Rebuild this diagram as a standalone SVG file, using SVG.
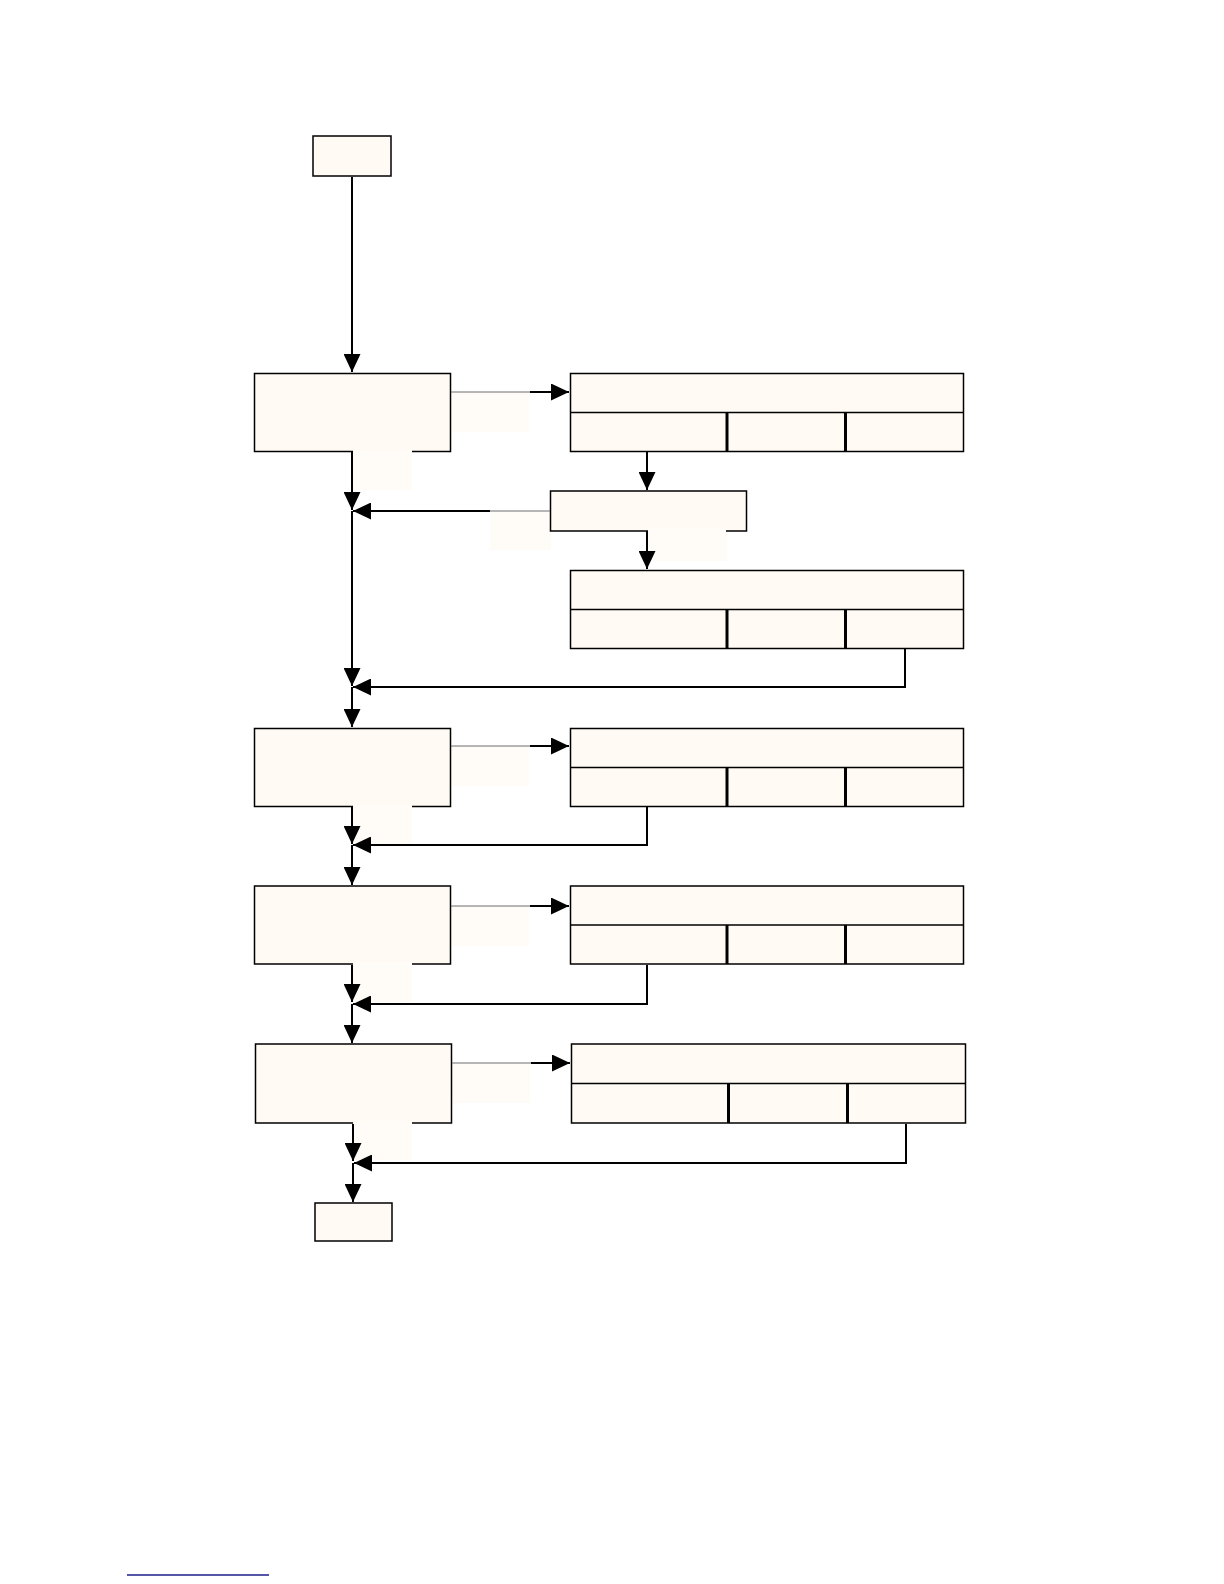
<svg xmlns="http://www.w3.org/2000/svg" width="1224" height="1584" viewBox="0 0 1224 1584">
<style>
.box{fill:#fffaf4;stroke:#000;stroke-width:1.5}
.div{stroke:#000;stroke-width:1.5}
.divt{stroke:#000;stroke-width:3}
.patch{fill:#fffbf7;stroke:none}
.gap{stroke:#fffbf7;stroke-width:3}
.c{fill:none;stroke:#000;stroke-width:2}
.g{fill:none;stroke:#6e6e6e;stroke-width:1.2}
</style>
<defs>
<marker id="ah" viewBox="0 0 18 17" refX="18" refY="8.5" markerWidth="18" markerHeight="17" markerUnits="userSpaceOnUse" orient="auto" preserveAspectRatio="none">
<path d="M0,0 L18,8.5 L0,17 z" fill="#000"/>
</marker>
</defs>
<rect width="1224" height="1584" fill="#fff"/>

<g id="patches">
<rect class="patch" x="451" y="392" width="78" height="40"/>
<rect class="patch" x="353" y="453" width="59" height="37"/>
<rect class="patch" x="490" y="512" width="61" height="38"/>
<rect class="patch" x="648" y="531" width="79" height="30"/>
<rect class="patch" x="451" y="746" width="78" height="40"/>
<rect class="patch" x="353" y="808" width="59" height="36"/>
<rect class="patch" x="451" y="906" width="78" height="40"/>
<rect class="patch" x="353" y="966" width="59" height="36"/>
<rect class="patch" x="452" y="1063" width="78" height="40"/>
<rect class="patch" x="353" y="1124" width="59" height="36"/>
</g>

<g id="start"><rect class="box" x="313" y="136" width="78" height="40"/></g>

<g id="box1"><rect class="box" x="254.5" y="373.5" width="196" height="78"/><line class="gap" x1="353" y1="451.5" x2="412" y2="451.5"/></g>
<g id="table1">
<rect class="box" x="570.5" y="373.5" width="393" height="78"/>
<line class="div" x1="570.5" y1="412.5" x2="963.5" y2="412.5"/>
<line class="divt" x1="727" y1="412.5" x2="727" y2="451.5"/>
<line class="divt" x1="845.5" y1="412.5" x2="845.5" y2="451.5"/>
</g>
<g id="junction"><rect class="box" x="550.5" y="491" width="196" height="40"/><line class="gap" x1="648" y1="531" x2="726" y2="531"/></g>
<g id="table2">
<rect class="box" x="570.5" y="570.5" width="393" height="78"/>
<line class="div" x1="570.5" y1="609.5" x2="963.5" y2="609.5"/>
<line class="divt" x1="727" y1="609.5" x2="727" y2="648.5"/>
<line class="divt" x1="845.5" y1="609.5" x2="845.5" y2="648.5"/>
</g>

<g id="box2"><rect class="box" x="254.5" y="728.5" width="196" height="78"/><line class="gap" x1="353" y1="806.5" x2="412" y2="806.5"/></g>
<g id="table3">
<rect class="box" x="570.5" y="728.5" width="393" height="78"/>
<line class="div" x1="570.5" y1="767.5" x2="963.5" y2="767.5"/>
<line class="divt" x1="727" y1="767.5" x2="727" y2="806.5"/>
<line class="divt" x1="845.5" y1="767.5" x2="845.5" y2="806.5"/>
</g>

<g id="box3"><rect class="box" x="254.5" y="886" width="196" height="78"/><line class="gap" x1="353" y1="964" x2="412" y2="964"/></g>
<g id="table4">
<rect class="box" x="570.5" y="886" width="393" height="78"/>
<line class="div" x1="570.5" y1="925" x2="963.5" y2="925"/>
<line class="divt" x1="727" y1="925" x2="727" y2="964"/>
<line class="divt" x1="845.5" y1="925" x2="845.5" y2="964"/>
</g>

<g id="box4"><rect class="box" x="255.5" y="1044" width="196" height="79"/><line class="gap" x1="353" y1="1123" x2="412" y2="1123"/></g>
<g id="table5">
<rect class="box" x="571.5" y="1044" width="394" height="79"/>
<line class="div" x1="571.5" y1="1083.5" x2="965.5" y2="1083.5"/>
<line class="divt" x1="728.5" y1="1083.5" x2="728.5" y2="1123"/>
<line class="divt" x1="847.5" y1="1083.5" x2="847.5" y2="1123"/>
</g>

<g id="end"><rect class="box" x="315" y="1203" width="77" height="38"/></g>

<g id="connectors">
<path class="c" d="M352,177 V372" marker-end="url(#ah)"/>
<path class="g" d="M451,392 H530"/>
<path class="c" d="M530,392 H569" marker-end="url(#ah)"/>
<path class="c" d="M352,452 V510" marker-end="url(#ah)"/>
<path class="c" d="M647,452 V490" marker-end="url(#ah)"/>
<path class="g" d="M550,511 H490"/>
<path class="c" d="M490,511 H353" marker-end="url(#ah)"/>
<path class="c" d="M647,531 V569" marker-end="url(#ah)"/>
<path class="c" d="M352,511 V686" marker-end="url(#ah)"/>
<path class="c" d="M905,649 V687 H353" marker-end="url(#ah)"/>
<path class="c" d="M352,687 V727" marker-end="url(#ah)"/>
<path class="g" d="M451,746 H530"/>
<path class="c" d="M530,746 H569" marker-end="url(#ah)"/>
<path class="c" d="M352,807 V844" marker-end="url(#ah)"/>
<path class="c" d="M647,807 V845 H353" marker-end="url(#ah)"/>
<path class="c" d="M352,845 V885" marker-end="url(#ah)"/>
<path class="g" d="M451,906 H530"/>
<path class="c" d="M530,906 H569" marker-end="url(#ah)"/>
<path class="c" d="M352,965 V1002" marker-end="url(#ah)"/>
<path class="c" d="M647,965 V1004 H353" marker-end="url(#ah)"/>
<path class="c" d="M352,1004 V1043" marker-end="url(#ah)"/>
<path class="g" d="M452,1063 H531"/>
<path class="c" d="M531,1063 H570" marker-end="url(#ah)"/>
<path class="c" d="M353,1124 V1161" marker-end="url(#ah)"/>
<path class="c" d="M906,1124 V1163 H354" marker-end="url(#ah)"/>
<path class="c" d="M353,1163 V1202" marker-end="url(#ah)"/>
</g>

<line x1="127" y1="1575" x2="269" y2="1575" stroke="#1c1c8a" stroke-width="1.5"/>
</svg>
